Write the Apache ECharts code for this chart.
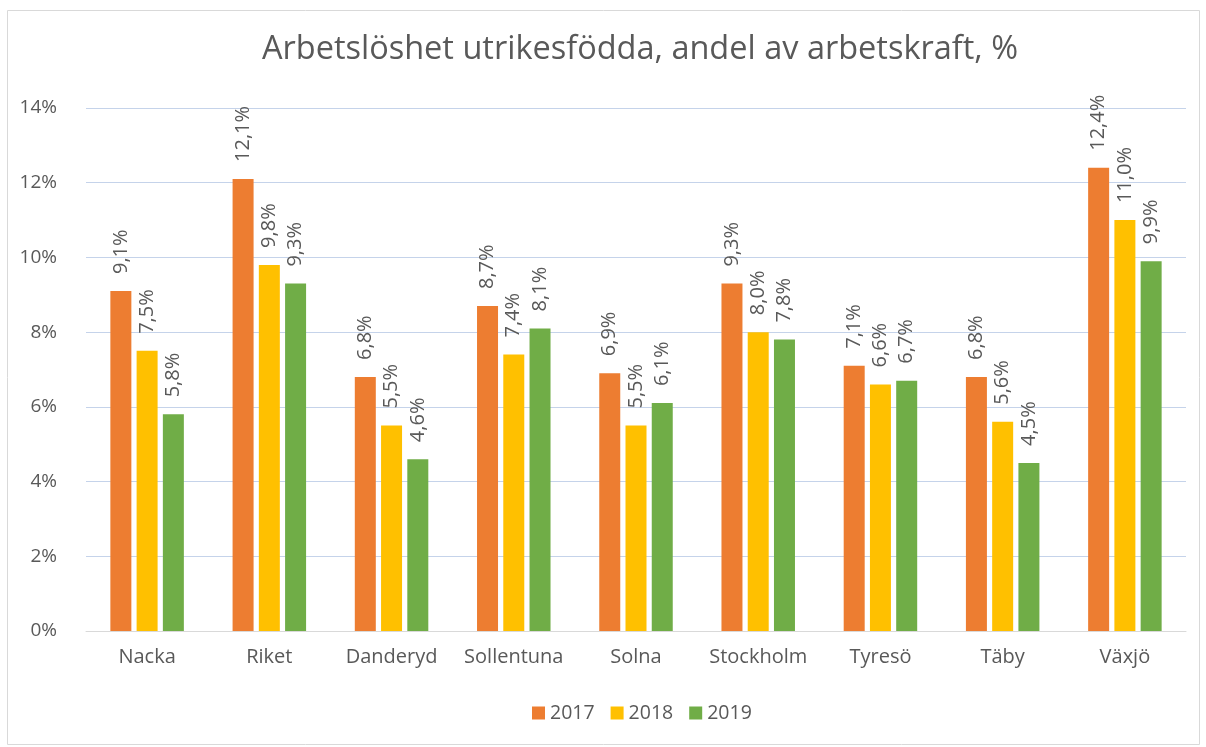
<!DOCTYPE html>
<html><head><meta charset="utf-8">
<script src="https://cdn.jsdelivr.net/npm/echarts@6/dist/echarts.min.js"></script>
<style>html,body{margin:0;padding:0;background:#fff}#c{width:1206px;height:747px}</style>
</head><body><div id="c"></div>
<script>
const categories = ['Nacka','Riket','Danderyd','Sollentuna','Solna','Stockholm','Tyresö','Täby','Växjö'];
const s2017 = [9.1,12.1,6.8,8.7,6.9,9.3,7.1,6.8,12.4];
const s2018 = [7.5,9.8,5.5,7.4,5.5,8.0,6.6,5.6,11.0];
const s2019 = [5.8,9.3,4.6,8.1,6.1,7.8,6.7,4.5,9.9];
const seriesNames = ['2017','2018','2019'];
const colors = ['#ED7D31','#FFC000','#70AD47'];
const FONT = '"Open Sans", sans-serif';
const chart = echarts.init(document.getElementById('c'));
const fmt = v => v.toFixed(1).replace('.', ',') + '%';
const mk = (name, data, color) => ({
  name, type: 'bar', data, barWidth: 21, barGap: '25%',
  itemStyle: {color},
  label: {show: true, position: 'top', rotate: 90, align: 'left', verticalAlign: 'middle',
    distance: 17, color: '#595959', fontSize: 20, fontFamily: FONT,
    formatter: p => fmt(p.value)}
});
chart.setOption({
  animation: false,
  graphic: [
    {type: 'rect', shape: {x: 7.5, y: 10.5, width: 1192, height: 734},
      style: {fill: 'none', stroke: '#d9d9d9', lineWidth: 1}, silent: true},
    {type: 'text', x: 640, y: 33, silent: true,
      style: {text: 'Arbetslöshet utrikesfödda, andel av arbetskraft, %', textAlign: 'center', textVerticalAlign: 'top',
        fill: '#595959', fontSize: 32.5, fontFamily: FONT}}
  ],
  legend: {bottom: 19, left: 527, itemWidth: 13, itemHeight: 13, itemGap: 16,
    icon: 'rect', textStyle: {color: '#595959', fontSize: 19.5, fontFamily: FONT}},
  grid: {left: 86, right: 20, top: 108, bottom: 116, containLabel: false},
  xAxis: {type: 'category', data: categories,
    axisLine: {lineStyle: {color: '#d9d9d9'}}, axisTick: {show: false},
    axisLabel: {interval: 0, color: '#595959', fontSize: 20, fontFamily: FONT, margin: 16}},
  yAxis: {type: 'value', min: 0, max: 14, interval: 2,
    axisLine: {show: false}, axisTick: {show: false},
    splitLine: {lineStyle: {color: '#c5d3ea'}},
    axisLabel: {color: '#595959', fontSize: 19, fontFamily: FONT, margin: 29, formatter: v => v + '%'}},
  series: [mk(seriesNames[0], s2017, colors[0]), mk(seriesNames[1], s2018, colors[1]), mk(seriesNames[2], s2019, colors[2])]
});
</script></body></html>
